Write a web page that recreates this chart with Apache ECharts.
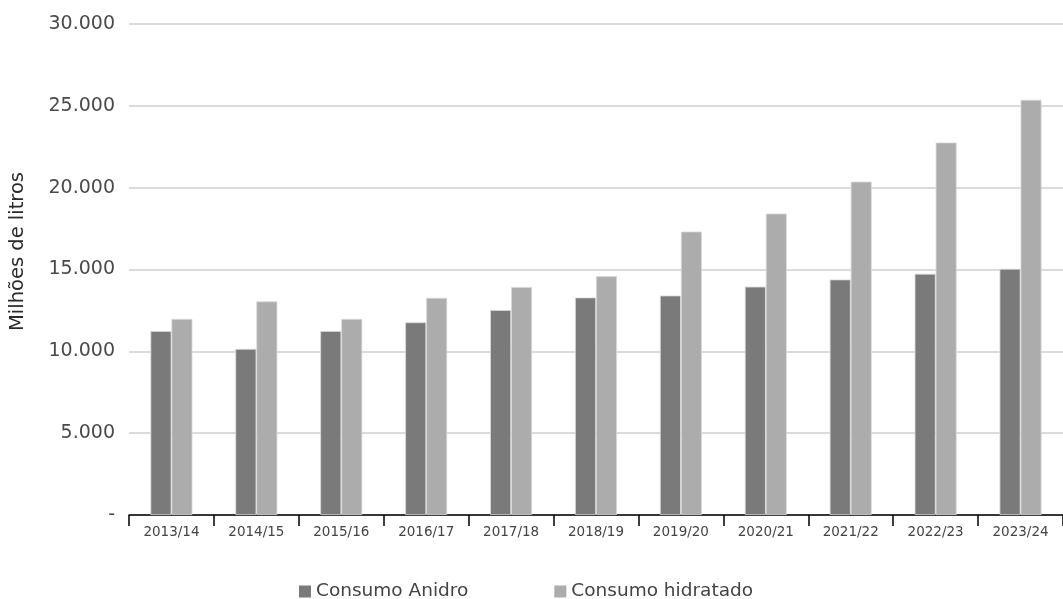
<!DOCTYPE html>
<html>
<head>
<meta charset="utf-8">
<script src="https://cdn.jsdelivr.net/npm/echarts@6/dist/echarts.min.js"></script>
<style>
html,body{margin:0;padding:0;background:#fff;}
#chart{width:1063px;height:599px;}
</style>
</head>
<body>
<div id="chart"></div>
<script>
const categories = ['2013/14','2014/15','2015/16','2016/17','2017/18','2018/19','2019/20','2020/21','2021/22','2022/23','2023/24'];
const anidro = [11240, 10150, 11240, 11770, 12520, 13290, 13410, 13950, 14390, 14740, 15040];
const hidratado = [11980, 13050, 11980, 13270, 13930, 14590, 17320, 18420, 20370, 22760, 25370];
const seriesNames = ['Consumo Anidro', 'Consumo hidratado'];
const yTitle = 'Milhões de litros';

const chart = echarts.init(document.getElementById('chart'), null, {renderer:'canvas'});
const font = '"DejaVu Sans", "Open Sans", sans-serif';
chart.setOption({
  animation: false,
  backgroundColor: '#ffffff',
  grid: {left: 128, top: 24, bottom: 84, width: 944, containLabel: false},
  legend: {
    top: 582, left: 299, padding: 0, itemWidth: 12, itemHeight: 12, itemGap: 86,
    icon: 'rect',
    itemStyle: {borderWidth: 0},
    textStyle: {fontFamily: font, fontSize: 18.5, color: '#444'},
    data: seriesNames
  },
  xAxis: {
    type: 'category', data: categories,
    axisLine: {lineStyle: {color: '#000', width: 1.5}},
    axisTick: {show: true, length: 11, lineStyle: {color: '#000', width: 1.5}},
    axisLabel: {fontFamily: font, fontSize: 13.5, color: '#444', margin: 10}
  },
  yAxis: {
    type: 'value', min: 0, max: 30000, interval: 5000,
    name: yTitle, nameLocation: 'middle', nameGap: 101, nameRotate: 90,
    nameTextStyle: {fontFamily: font, fontSize: 19.5, color: '#2a2a2a', padding: [0, 0, 0, 36]},
    axisLine: {show: false}, axisTick: {show: false},
    splitLine: {lineStyle: {color: '#cfcfcf', width: 1.5}},
    axisLabel: {
      fontFamily: font, fontSize: 19, color: '#4a4a4a', margin: 14,
      formatter: v => v === 0 ? '-' : v.toLocaleString('de-DE')
    }
  },
  series: [
    {name: seriesNames[0], type: 'bar', data: anidro, barWidth: 21, barGap: '0%',
     itemStyle: {color: '#7a7a7a', borderColor: '#d9d9d9', borderWidth: 0.8}},
    {name: seriesNames[1], type: 'bar', data: hidratado, barWidth: 21, barGap: '0%',
     itemStyle: {color: '#acacac', borderColor: '#d9d9d9', borderWidth: 0.8}}
  ]
});
</script>
</body>
</html>
